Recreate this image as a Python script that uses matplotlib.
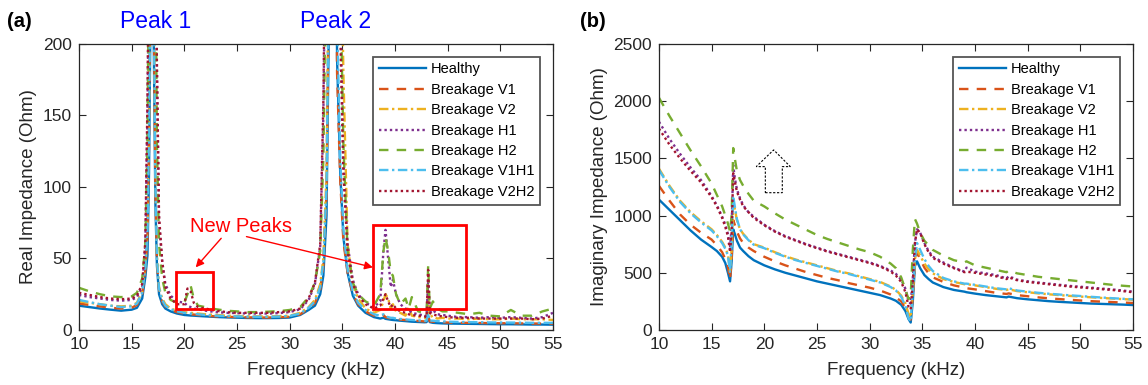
import matplotlib.pyplot as plt
from matplotlib.patches import Rectangle, Polygon

plt.rcParams['font.family'] = ['Liberation Sans', 'DejaVu Sans']

LABELS = ['Healthy', 'Breakage V1', 'Breakage V2', 'Breakage H1',
          'Breakage H2', 'Breakage V1H1', 'Breakage V2H2']
COLORS = ['#0072BD', '#D95319', '#EDB120', '#7E2F8E',
          '#77AC30', '#4DBEEE', '#A2142F']
STYLES = ['-', (0, (4, 3.5)), (0, (4, 1.5, 1, 1.5)), (0, (1, 1.3)),
          (0, (4, 3.5)), (0, (4, 1.5, 1, 1.5)), (0, (1, 1.3))]

# ---- panel (a): real part, frequency grid in kHz
FREQ_A = [10, 11, 12, 13, 14, 15,
          15.5, 16, 16.3, 16.5, 16.65, 16.8, 16.95, 17.1, 17.25, 17.4,
          17.6, 17.9, 18.2, 18.7, 19.3, 20, 20.3, 20.6, 20.9, 21.3,
          22, 23, 24, 25, 26, 27, 28, 29, 30, 31,
          31.8, 32.4, 32.9, 33.2, 33.5, 33.7, 33.9, 34.1, 34.3, 34.5,
          34.8, 35.1, 35.5, 36, 36.5, 37.2, 38, 38.6, 38.9, 39.1,
          39.35, 39.6, 39.8, 40.1, 40.5, 41, 41.3, 41.6, 42.2, 42.8,
          43.0, 43.15, 43.3, 43.6, 44, 44.5, 45, 46, 47, 48,
          49, 50, 51, 52, 53, 54, 55]

RE_HEALTHY = [17, 16, 15, 14.2, 13.5, 14.2,
              15.5, 22, 37, 52, 110, 230, 900, 200, 90, 45,
              25, 18, 15, 13, 11.5, 10.5, 10.3, 10.1, 10, 9.8,
              9.5, 9.1, 8.8, 8.6, 8.4, 8.3, 8.3, 8.4, 8.7, 10.5,
              14, 17, 25, 38, 80, 200, 450, 900, 450, 190,
              110, 65, 40, 24, 17, 12, 9, 8, 8.6, 7.8,
              7.5, 7.2, 7, 6.8, 6.5, 6.2, 6, 5.8, 5.6, 5.4,
              5.5, 9, 5.5, 5, 4.8, 4.6, 4.5, 4.4, 4.3, 4.2,
              4.1, 4, 4, 3.9, 3.8, 3.8, 3.7]
RE_V1 = [18.5, 17.5, 16.5, 15.5, 15, 15.5,
         17.5, 25, 42, 65, 130, 260, 900, 230, 100, 48,
         28, 20, 16.5, 14, 12.5, 11.5, 11.2, 11, 10.8, 10.5,
         10, 9.5, 9.2, 9, 8.8, 8.7, 8.7, 8.9, 9.2, 11,
         15, 19, 28, 45, 95, 230, 500, 900, 420, 180,
         105, 62, 40, 25, 18, 13, 10, 9, 10.5, 9,
         8.5, 8, 8, 7.5, 7.2, 7, 6.8, 6.6, 6.3, 6,
         6, 10, 6, 5.8, 5.6, 5.4, 5.2, 5, 5, 4.9,
         4.8, 4.7, 4.7, 4.6, 4.5, 4.5, 4.4]
RE_V2 = [20, 19, 18, 17, 16.5, 17,
         19, 27, 45, 75, 150, 280, 900, 240, 110, 52,
         30, 22, 18, 15, 13.5, 12.5, 12.2, 12, 11.8, 11.5,
         11, 10.5, 10, 9.8, 9.6, 9.5, 9.5, 9.7, 10, 12,
         16, 21, 32, 50, 110, 250, 500, 900, 600, 380,
         320, 180, 60, 32, 22, 15, 12, 14, 20, 25,
         22, 15, 18, 13, 12, 10, 16, 10, 9, 8.5,
         8, 25, 9, 10, 8, 8.5, 8, 8, 7.5, 8,
         7.5, 7.5, 8, 7.5, 7.5, 7.5, 7]
RE_H1 = [24.5, 23, 22, 21, 20.5, 21,
         23, 30, 60, 150, 260, 500, 900, 600, 300, 180,
         75, 48, 32, 24, 20, 19, 17, 16, 15, 14.5,
         13.5, 12.5, 12, 11.8, 11.5, 11.5, 11.5, 11.8, 12.5, 14.5,
         21, 32, 58, 150, 350, 600, 900, 900, 700, 450,
         230, 120, 60, 35, 25, 19, 16, 20, 55, 70,
         50, 30, 35, 25, 18, 15, 14, 12, 11, 10,
         10, 35, 12, 14, 11, 10.5, 10, 9, 9, 8.5,
         9, 8.5, 9, 8.5, 8, 9, 12]
RE_H2 = [29.5, 27, 25, 23.5, 23, 23.5,
         26, 36, 60, 130, 260, 500, 900, 600, 280, 130,
         60, 36, 26, 21, 19, 19, 25, 31, 22, 17,
         16, 14.5, 13.5, 13, 12.5, 12.5, 12.8, 13.2, 14, 16,
         23, 33, 55, 120, 280, 550, 900, 900, 700, 450,
         250, 130, 55, 33, 25, 20, 17, 25, 55, 65,
         55, 40, 38, 25, 18, 22, 15, 23, 13, 12,
         11.5, 45, 15, 20, 15, 13, 13, 12, 11, 12,
         10, 9.5, 14, 10, 10, 13, 15]
RE_V1H1 = [21, 19.5, 18, 17, 16, 16.5,
           18.5, 26, 44, 70, 140, 270, 900, 230, 105, 50,
           29, 21, 17, 14.5, 13, 12, 11.8, 11.5, 11.3, 11,
           10.5, 10, 9.7, 9.5, 9.3, 9.2, 9.2, 9.4, 9.8, 11.5,
           15.5, 20, 30, 48, 100, 240, 500, 900, 480, 220,
           120, 70, 42, 27, 19, 14, 11, 10, 11, 9.5,
           9, 8.5, 8.5, 8, 7.7, 7.4, 7.2, 7, 6.7, 6.4,
           6.5, 12, 6.5, 6.5, 6.2, 6, 5.8, 5.6, 5.5, 5.4,
           5.3, 5.2, 5.2, 5.1, 5, 5, 5]
RE_V2H2 = [26, 24.5, 23, 22, 21.5, 22,
           24, 32, 62, 160, 280, 520, 900, 620, 300, 185,
           80, 48, 30, 22, 18, 18, 29, 27, 19, 16,
           15, 13.5, 12.5, 12, 12, 12, 12, 12.5, 13, 15,
           22, 33, 60, 160, 360, 620, 900, 900, 680, 420,
           210, 110, 55, 32, 24, 18, 15, 17, 22, 25,
           20, 16, 18, 15, 13, 12, 11, 10.5, 10, 9.5,
           9, 42, 12, 11, 10, 9.5, 9, 8.5, 8.5, 8,
           8, 8, 8, 8, 7.5, 8, 10]

# ---- panel (b): imaginary part
FREQ_B = [10, 11, 12, 13, 14, 15,
          15.5, 16, 16.3, 16.55, 16.75, 16.9, 17.05, 17.2, 17.4, 17.7,
          18, 18.5, 19, 20, 21, 22, 23, 24, 25, 26,
          27, 28, 29, 30, 31, 32, 32.5, 33, 33.4, 33.7,
          33.9, 34.1, 34.3, 34.5, 34.8, 35.2, 35.6, 36, 37, 38,
          39, 39.2, 40, 41, 42, 43, 43.2, 44, 45, 46,
          47, 48, 49, 50, 51, 52, 53, 54, 55]

IM_HEALTHY = [1140, 1050, 960, 870, 790, 725,
              690, 640, 585, 500, 425, 600, 880, 840, 780, 720,
              690, 645, 610, 565, 530, 500, 475, 450, 425, 405,
              385, 365, 345, 325, 305, 275, 255, 220, 165, 95,
              65, 250, 560, 600, 540, 480, 445, 415, 375, 350,
              335, 330, 318, 305, 295, 285, 292, 278, 268, 260,
              252, 246, 241, 236, 231, 228, 225, 222, 218]
IM_V1 = [1260, 1130, 1010, 920, 850, 790,
         740, 680, 620, 550, 440, 620, 960, 920, 860, 800,
         760, 720, 690, 640, 600, 565, 535, 505, 480, 455,
         435, 410, 390, 370, 345, 310, 285, 250, 190, 110,
         90, 300, 600, 680, 620, 545, 495, 460, 420, 390,
         370, 365, 355, 340, 325, 315, 320, 305, 295, 285,
         277, 270, 264, 258, 252, 248, 244, 240, 236]
IM_V2 = [1410, 1260, 1130, 1030, 950, 880,
         830, 770, 720, 660, 520, 700, 1120, 1060, 960, 880,
         840, 790, 750, 720, 680, 645, 615, 590, 565, 540,
         515, 495, 470, 445, 420, 380, 350, 300, 230, 140,
         110, 330, 620, 700, 650, 580, 530, 495, 445, 420,
         400, 400, 390, 375, 360, 350, 355, 340, 330, 320,
         312, 305, 298, 292, 286, 280, 275, 270, 265]
IM_H1 = [1820, 1670, 1540, 1420, 1310, 1170,
         1090, 990, 920, 840, 720, 900, 1440, 1330, 1230, 1150,
         1090, 1030, 990, 920, 865, 820, 785, 750, 720, 690,
         665, 640, 615, 590, 560, 520, 490, 440, 360, 250,
         230, 450, 760, 880, 850, 760, 690, 640, 590, 545,
         510, 545, 510, 495, 480, 450, 470, 440, 425, 415,
         405, 395, 385, 378, 370, 362, 355, 345, 335]
IM_H2 = [2030, 1870, 1720, 1570, 1430, 1280,
         1180, 1080, 1000, 930, 860, 1000, 1590, 1500, 1390, 1310,
         1260, 1190, 1130, 1080, 1020, 965, 920, 875, 830, 795,
         765, 735, 705, 680, 640, 580, 540, 460, 350, 270,
         300, 700, 970, 930, 850, 780, 740, 700, 650, 610,
         590, 600, 565, 545, 525, 505, 520, 495, 480, 465,
         455, 445, 435, 425, 415, 405, 395, 387, 380]
IM_V1H1 = [1400, 1250, 1120, 1020, 940, 870,
           820, 760, 710, 650, 500, 760, 1170, 1080, 970, 880,
           835, 785, 745, 715, 675, 640, 610, 585, 560, 535,
           510, 490, 465, 440, 415, 375, 345, 290, 210, 100,
           75, 350, 620, 760, 700, 620, 560, 515, 455, 425,
           405, 405, 395, 380, 365, 355, 365, 345, 335, 325,
           317, 310, 303, 297, 290, 284, 278, 273, 268]
IM_V2H2 = [1760, 1620, 1500, 1390, 1290, 1160,
           1080, 980, 900, 820, 680, 850, 1370, 1300, 1210, 1140,
           1080, 1030, 980, 915, 860, 815, 780, 745, 715, 685,
           660, 635, 610, 585, 555, 510, 475, 420, 330, 200,
           180, 420, 760, 880, 850, 750, 680, 630, 580, 540,
           505, 510, 500, 485, 470, 445, 460, 435, 420, 410,
           400, 390, 380, 372, 365, 357, 350, 340, 330]

RE_SERIES = [RE_HEALTHY, RE_V1, RE_V2, RE_H1, RE_H2, RE_V1H1, RE_V2H2]
IM_SERIES = [IM_HEALTHY, IM_V1, IM_V2, IM_H1, IM_H2, IM_V1H1, IM_V2H2]

# annotation geometry (data units)
BOX_SMALL = (19.24, 14.9, 3.48, 25.4)
BOX_BIG = (37.9, 14.9, 8.8, 58.5)
ARROW_TEXT = (25.4, 72.7)
ARROW_1 = ((23.5, 64.1), (21.08, 43.8))
ARROW_2 = ((25.9, 65.3), (37.9, 43.8))
UP_ARROW = [(20.1, 1200), (21.71, 1200), (21.71, 1428), (22.47, 1428),
            (20.89, 1574), (19.24, 1428), (20.1, 1428)]

fig = plt.figure(figsize=(11.48, 3.85), dpi=100)
ax_a = fig.add_axes([0.0688, 0.1429, 0.4129, 0.7429])
ax_b = fig.add_axes([0.574, 0.1429, 0.4129, 0.7429])


def style_axes(ax, ylim, yticks, ylabel, ylabel_x):
    ax.set_xlim(10, 55)
    ax.set_ylim(*ylim)
    ax.set_xticks(range(10, 56, 5))
    ax.set_yticks(yticks)
    ax.tick_params(direction='in', top=True, right=True, length=5,
                   labelsize=12.5, colors='#262626', width=0.8, pad=5)
    for sp in ax.spines.values():
        sp.set_color('#262626')
        sp.set_linewidth(0.9)
    ax.set_xlabel('Frequency (kHz)', fontsize=13.5, color='#262626')
    ax.set_ylabel(ylabel, fontsize=13.5, color='#262626')
    ax.xaxis.set_label_coords(0.5, -0.112)
    ax.yaxis.set_label_coords(ylabel_x, 0.5)
    leg = ax.legend(loc='upper right', bbox_to_anchor=(0.973, 0.956),
                    borderaxespad=0, fontsize=10.5, handlelength=3.2,
                    handletextpad=0.35, labelspacing=0.44, borderpad=0.4,
                    fancybox=False, framealpha=1)
    leg.get_frame().set_edgecolor('#555555')
    leg.get_frame().set_linewidth(1.3)


for vals, lab, col, ls in zip(RE_SERIES, LABELS, COLORS, STYLES):
    ax_a.plot(FREQ_A, vals, color=col, linestyle=ls, lw=1.7, label=lab)
for vals, lab, col, ls in zip(IM_SERIES, LABELS, COLORS, STYLES):
    ax_b.plot(FREQ_B, vals, color=col, linestyle=ls, lw=1.7, label=lab)

style_axes(ax_a, (0, 200), range(0, 201, 50), 'Real Impedance (Ohm)', -0.088)
style_axes(ax_b, (0, 2500), range(0, 2501, 500), 'Imaginary Impedance (Ohm)', -0.108)

# panel (a) annotations
for x, y, w, h in (BOX_SMALL, BOX_BIG):
    ax_a.add_patch(Rectangle((x, y), w, h, fill=False, edgecolor='red', lw=2, zorder=5))
ax_a.text(*ARROW_TEXT, 'New Peaks', color='red', fontsize=14.5, ha='center', va='center')
for start, end in (ARROW_1, ARROW_2):
    ax_a.annotate('', xy=end, xytext=start,
                  arrowprops=dict(arrowstyle='-|>', color='red', lw=1,
                                  mutation_scale=12, shrinkA=0, shrinkB=0))
ax_a.text(17.3, 1.08, 'Peak 1', color='blue', fontsize=16.5, ha='center', va='center',
          transform=ax_a.get_xaxis_transform())
ax_a.text(34.4, 1.08, 'Peak 2', color='blue', fontsize=16.5, ha='center', va='center',
          transform=ax_a.get_xaxis_transform())

# panel (b) hollow arrow
ax_b.add_patch(Polygon(UP_ARROW, closed=True, fill=False, edgecolor='black',
                       linestyle=(0, (2, 1.5)), lw=0.8))

fig.text(0.006, 0.945, '(a)', fontsize=14.5, fontweight='bold', va='center')
fig.text(0.505, 0.945, '(b)', fontsize=14.5, fontweight='bold', va='center')

fig.savefig('out.png', dpi=100)
